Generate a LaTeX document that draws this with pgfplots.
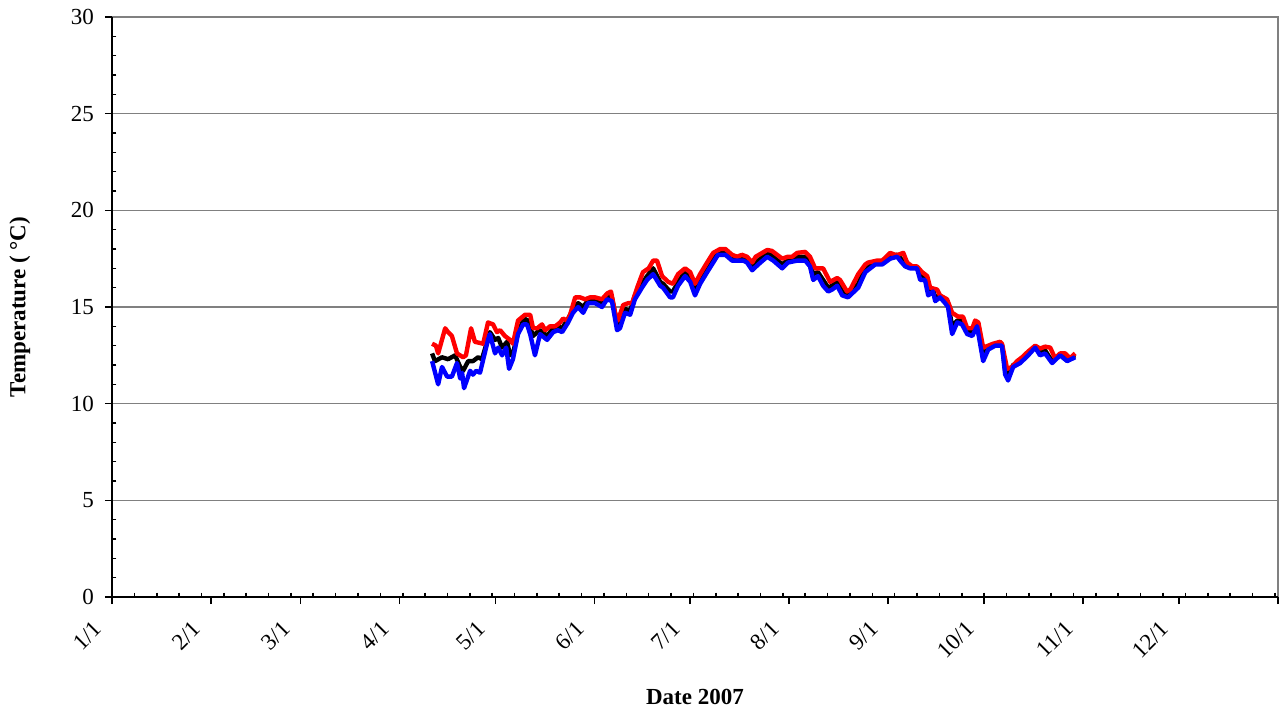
\documentclass[border=0pt]{standalone}
\usepackage{fontspec}
\setmainfont{Liberation Serif}
\usepackage{pgfplots}
\pgfplotsset{compat=1.18}
\definecolor{gridgray}{RGB}{128,128,128}
\begin{document}
\begin{tikzpicture}
\begin{axis}[
 scale only axis, width=583pt, height=290pt,
 xmin=0, xmax=365, ymin=0, ymax=30,
 axis x line*=bottom, axis y line*=left,
 axis line style={black, line width=1pt},
 axis background/.style={draw=gridgray, line width=0.8pt},
 xtick={0,31,59,90,120,151,181,212,243,273,304,334,365},
 xticklabels={1/1,2/1,3/1,4/1,5/1,6/1,7/1,8/1,9/1,10/1,11/1,12/1,{}},
 minor xtick={7,14,...,364},
 ytick={0,5,...,30},
 minor ytick={1,2,3,4,6,7,8,9,11,12,13,14,16,17,18,19,21,22,23,24,26,27,28,29},
 tick align=outside, major tick length=3.5pt, minor tick length=-2.2pt,
 tick style={black, line width=0.8pt},
 ymajorgrids, major grid style={gridgray, line width=0.6pt},
 /pgf/number format/assume math mode=true,
 tick label style={font=\fontsize{11.5}{13}\selectfont},
 yticklabel style={xshift=-2pt},
 xticklabel style={xshift=-7pt, yshift=-10.5pt, rotate=45, anchor=east, inner sep=0pt},
 xlabel={Date 2007}, ylabel={Temperature ( °C)},
 label style={font=\fontsize{11.5}{13}\selectfont\bfseries},
 xlabel style={at={(axis description cs:0.5,-0.172)}, anchor=center},
 ylabel style={at={(axis description cs:-0.079,0.5)}, anchor=center},
 clip=false,
]
\addplot[black, line width=2.2pt, line join=round] coordinates {
(100.2,12.6) (101.1,12.2) (103.3,12.4) (105.2,12.3) (107.4,12.5) (109.0,11.9) (109.9,11.7) (111.5,12.2) (113.0,12.2) (114.6,12.4) (115.8,12.3) (118.3,13.7) (119.9,13.3) (120.9,13.4) (122.1,12.9) (123.7,13.2) (124.6,12.5) (125.5,12.6) (127.1,13.7) (129.0,14.4) (130.2,14.3) (131.8,13.5) (133.1,13.7)
(134.0,13.8) (136.2,13.5) (138.1,13.9) (139.6,14.0) (140.9,13.9) (142.8,14.4) (144.3,14.9) (145.9,15.2) (147.5,15.0) (149.0,15.35) (151.2,15.35) (153.4,15.2) (155.0,15.55) (156.5,15.5) (158.1,14.1) (159.0,14.1) (160.6,14.9) (162.2,14.8) (163.7,15.6) (165.9,16.2) (167.5,16.6) (169.4,17.0) (171.6,16.3) (172.5,16.2) (174.7,15.8) (175.6,15.8) (177.2,16.3) (179.4,16.8) (181.0,16.5) (182.5,15.9) (184.1,16.4) (186.3,17.0) (188.2,17.5) (189.7,17.85) (192.0,17.85) (194.1,17.55) (195.7,17.5) (197.6,17.55) (198.8,17.45) (200.4,17.1) (202.3,17.4) (205.1,17.8) (207.0,17.6) (209.8,17.2) (211.6,17.45) (214.5,17.6) (217.0,17.6) (218.5,17.3) (219.5,16.7) (221.0,16.8) (222.6,16.4) (224.2,16.0) (225.4,16.1) (227.0,16.3) (228.6,15.8) (230.4,15.6) (233.6,16.2) (235.8,17.0) (238.9,17.3) (241.1,17.3) (243.6,17.65) (245.8,17.7) (246.7,17.55) (248.3,17.2) (249.8,17.05) (252.0,17.05) (253.0,16.6) (254.5,16.5) (255.5,15.8) (257.0,15.9) (257.7,15.5) (259.2,15.6) (260.8,15.3) (261.7,15.2) (263.0,14.0) (264.6,14.3) (266.1,14.3) (267.7,13.7) (269.3,13.7) (270.8,14.1) (272.7,12.5) (274.3,12.9) (276.5,13.05) (278.6,13.05) (279.6,11.7) (280.5,11.5) (282.1,12.0) (284.3,12.2) (286.8,12.6) (289.0,12.95) (290.5,12.65) (292.1,12.75) (294.3,12.2) (296.8,12.55) (299.0,12.3) (301.5,12.5)
};
\addplot[red, line width=2.2pt, line join=round] coordinates {
(100.2,13.1) (101.4,13.0) (102.1,12.6) (104.3,13.9) (105.2,13.7) (106.4,13.5) (108.0,12.6) (109.9,12.4) (110.8,12.5) (112.4,13.9) (113.6,13.2) (116.2,13.1) (117.7,14.2) (119.3,14.1) (120.5,13.7) (121.5,13.8) (123.0,13.5) (124.6,13.3) (125.5,13.1) (127.1,14.3) (129.3,14.6) (130.9,14.6) (131.8,13.9) (133.1,13.9) (134.6,14.1) (135.6,13.8) (137.1,14.0) (138.7,14.0) (140.3,14.2) (141.2,14.4) (142.5,14.3) (143.4,14.6) (145.0,15.5) (146.5,15.5) (148.1,15.4) (149.7,15.5) (151.2,15.5) (153.4,15.4) (155.0,15.7) (156.2,15.8) (157.5,14.7) (158.4,14.3) (160.0,15.1) (161.6,15.2) (162.8,15.2) (164.4,16.0) (166.2,16.8) (168.0,17.0) (169.4,17.4) (170.6,17.4) (172.2,16.6) (174.1,16.3) (175.6,16.2) (177.2,16.7) (179.4,17.0) (181.0,16.8) (182.5,16.2) (184.1,16.7) (186.3,17.3) (188.2,17.8) (190.4,18.0) (192.0,18.0) (194.1,17.7) (195.7,17.6) (197.2,17.7) (198.8,17.6) (200.4,17.3) (201.5,17.6) (205.1,17.95) (206.6,17.9) (209.8,17.5) (211.6,17.6) (212.9,17.6) (214.5,17.8) (217.0,17.85) (218.5,17.6) (220.1,17.0) (222.6,17.0) (224.8,16.3) (227.0,16.5) (227.9,16.4) (230.1,15.8) (231.1,15.9) (233.6,16.7) (235.8,17.2) (236.7,17.3) (239.5,17.4) (241.1,17.4) (243.6,17.8) (245.1,17.7) (246.1,17.7) (247.7,17.8) (248.9,17.3) (250.5,17.1) (252.0,17.1) (253.6,16.8) (255.2,16.6) (256.1,16.0) (258.3,15.9) (259.2,15.6) (261.4,15.4) (263.0,14.7) (264.9,14.5) (266.4,14.5) (267.7,13.9) (269.3,13.9) (270.2,14.3) (271.2,14.2) (272.7,12.9) (274.3,13.0) (275.8,13.1) (278.0,13.2) (278.6,13.1) (280.2,11.8) (281.8,11.9) (283.3,12.2) (284.9,12.4) (286.8,12.7) (289.0,13.0) (290.5,12.85) (292.1,12.95) (293.7,12.9) (295.2,12.35) (296.8,12.6) (298.4,12.6) (299.9,12.35) (301.5,12.6)
};
\addplot[blue, line width=2.2pt, line join=round] coordinates {
(100.2,12.2) (102.1,11.0) (103.3,11.9) (104.9,11.4) (106.4,11.4) (108.0,12.1) (109.0,11.3) (109.6,11.6) (110.2,10.8) (112.1,11.7) (113.0,11.5) (114.0,11.7) (115.2,11.6) (117.7,13.3) (118.3,13.6) (119.9,12.6) (120.9,12.9) (122.1,12.5) (123.4,12.9) (124.3,11.8) (125.5,12.3) (127.1,13.6) (128.7,14.1) (129.9,14.1) (130.9,13.6) (132.4,12.5) (134.0,13.6) (136.2,13.3) (138.1,13.7) (139.6,13.8) (140.9,13.7) (142.8,14.2) (144.3,14.7) (145.9,15.0) (147.5,14.7) (149.0,15.2) (151.2,15.2) (153.4,15.0) (155.0,15.4) (156.5,15.3) (158.1,13.8) (159.0,13.9) (160.6,14.7) (162.2,14.6) (163.7,15.4) (165.9,16.0) (167.5,16.4) (169.4,16.7) (171.6,16.1) (172.5,16.0) (174.7,15.5) (175.6,15.5) (177.2,16.1) (179.4,16.6) (181.0,16.3) (182.5,15.6) (184.1,16.2) (186.3,16.8) (188.2,17.3) (189.7,17.7) (192.0,17.7) (194.1,17.4) (195.7,17.4) (197.6,17.4) (198.8,17.3) (200.4,16.9) (202.3,17.2) (205.1,17.6) (207.0,17.4) (209.8,17.0) (211.6,17.3) (214.5,17.4) (217.0,17.4) (218.5,17.1) (219.5,16.4) (221.0,16.6) (222.6,16.1) (224.2,15.8) (225.4,15.9) (227.0,16.1) (228.6,15.6) (230.4,15.5) (233.6,16.0) (235.8,16.8) (238.9,17.2) (241.1,17.2) (243.6,17.5) (245.8,17.6) (246.7,17.4) (248.3,17.1) (249.8,17.0) (252.0,17.0) (253.0,16.4) (254.5,16.4) (255.5,15.6) (257.0,15.8) (257.7,15.3) (259.2,15.5) (260.8,15.2) (261.7,15.0) (263.0,13.6) (264.6,14.2) (266.1,14.1) (267.7,13.6) (269.3,13.5) (270.8,14.0) (272.7,12.2) (274.3,12.8) (276.5,13.0) (278.6,13.0) (279.6,11.5) (280.5,11.2) (282.1,11.9) (284.3,12.1) (286.8,12.5) (289.0,12.9) (290.5,12.5) (292.1,12.6) (294.3,12.1) (296.8,12.5) (299.0,12.2) (301.5,12.4)
};
\end{axis}
\pgfresetboundingbox
\useasboundingbox (-56pt,-58pt) rectangle (584pt,298.5pt);
\end{tikzpicture}
\end{document}
